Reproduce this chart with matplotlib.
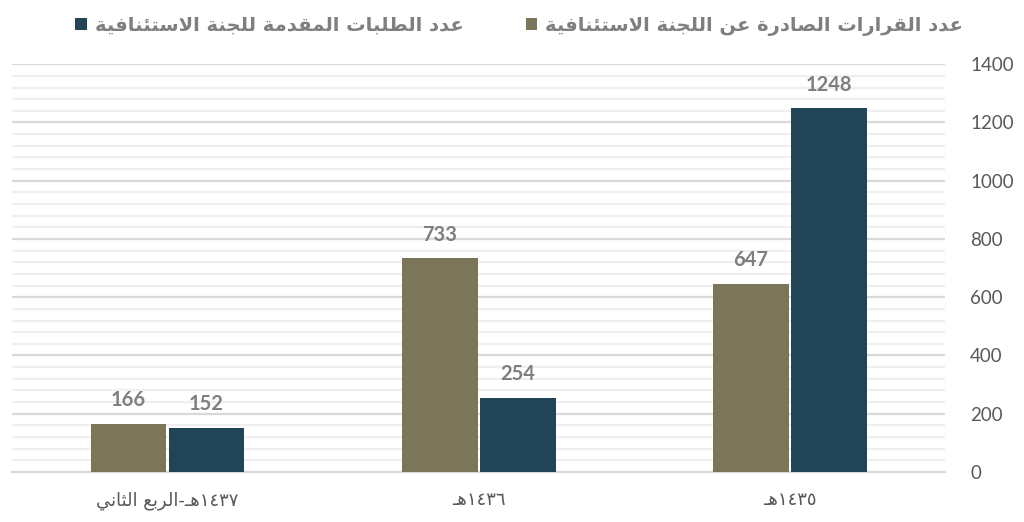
import re
import numpy as np
import matplotlib
matplotlib.use("Agg")
import matplotlib.pyplot as plt
from matplotlib.ticker import MultipleLocator

# ---------------- data ----------------
categories = ["١٤٣٥هـ", "١٤٣٦هـ", "١٤٣٧هـ-الربع الثاني"]
decisions = [647, 733, 166]      # عدد القرارات الصادرة عن اللجنة الاستئنافية
requests = [1248, 254, 152]      # عدد الطلبات المقدمة للجنة الاستئنافية
series_names = ["عدد القرارات الصادرة عن اللجنة الاستئنافية",
                "عدد الطلبات المقدمة للجنة الاستئنافية"]
yticks = [0, 200, 400, 600, 800, 1000, 1200, 1400]

OLIVE = "#7b7657"
NAVY = "#214457"

# ---------------- minimal Arabic shaping + bidi ----------------
FORMS = {
    "\u0621": ("\uFE80", "\uFE80", None, None),
    "\u0626": ("\uFE89", "\uFE8A", "\uFE8B", "\uFE8C"),
    "\u0627": ("\uFE8D", "\uFE8E", None, None),
    "\u0628": ("\uFE8F", "\uFE90", "\uFE91", "\uFE92"),
    "\u0629": ("\uFE93", "\uFE94", None, None),
    "\u062A": ("\uFE95", "\uFE96", "\uFE97", "\uFE98"),
    "\u062B": ("\uFE99", "\uFE9A", "\uFE9B", "\uFE9C"),
    "\u062C": ("\uFE9D", "\uFE9E", "\uFE9F", "\uFEA0"),
    "\u062D": ("\uFEA1", "\uFEA2", "\uFEA3", "\uFEA4"),
    "\u062E": ("\uFEA5", "\uFEA6", "\uFEA7", "\uFEA8"),
    "\u062F": ("\uFEA9", "\uFEAA", None, None),
    "\u0630": ("\uFEAB", "\uFEAC", None, None),
    "\u0631": ("\uFEAD", "\uFEAE", None, None),
    "\u0632": ("\uFEAF", "\uFEB0", None, None),
    "\u0633": ("\uFEB1", "\uFEB2", "\uFEB3", "\uFEB4"),
    "\u0634": ("\uFEB5", "\uFEB6", "\uFEB7", "\uFEB8"),
    "\u0635": ("\uFEB9", "\uFEBA", "\uFEBB", "\uFEBC"),
    "\u0636": ("\uFEBD", "\uFEBE", "\uFEBF", "\uFEC0"),
    "\u0637": ("\uFEC1", "\uFEC2", "\uFEC3", "\uFEC4"),
    "\u0638": ("\uFEC5", "\uFEC6", "\uFEC7", "\uFEC8"),
    "\u0639": ("\uFEC9", "\uFECA", "\uFECB", "\uFECC"),
    "\u063A": ("\uFECD", "\uFECE", "\uFECF", "\uFED0"),
    "\u0641": ("\uFED1", "\uFED2", "\uFED3", "\uFED4"),
    "\u0642": ("\uFED5", "\uFED6", "\uFED7", "\uFED8"),
    "\u0643": ("\uFED9", "\uFEDA", "\uFEDB", "\uFEDC"),
    "\u0644": ("\uFEDD", "\uFEDE", "\uFEDF", "\uFEE0"),
    "\u0645": ("\uFEE1", "\uFEE2", "\uFEE3", "\uFEE4"),
    "\u0646": ("\uFEE5", "\uFEE6", "\uFEE7", "\uFEE8"),
    "\u0647": ("\uFEE9", "\uFEEA", "\uFEEB", "\uFEEC"),
    "\u0648": ("\uFEED", "\uFEEE", None, None),
    "\u0649": ("\uFEEF", "\uFEF0", None, None),
    "\u064A": ("\uFEF1", "\uFEF2", "\uFEF3", "\uFEF4"),
}
TATWEEL = "\u0640"


def _dual(c):
    return c == TATWEEL or (c in FORMS and FORMS[c][2] is not None)


def _joining(c):
    return c == TATWEEL or c in FORMS


def shape(s):
    out = []
    i, n = 0, len(s)
    while i < n:
        c = s[i]
        prev = i > 0 and _dual(s[i - 1])
        if c == "\u0644" and i + 1 < n and s[i + 1] == "\u0627":
            out.append("\uFEFC" if prev else "\uFEFB")
            i += 2
            continue
        if c not in FORMS:
            out.append(c)
            i += 1
            continue
        iso, fin, ini, med = FORMS[c]
        nxt = ini is not None and i + 1 < n and _joining(s[i + 1])
        if prev and nxt:
            out.append(med)
        elif prev:
            out.append(fin)
        elif nxt:
            out.append(ini)
        else:
            out.append(iso)
        i += 1
    return "".join(out)


def rtl(s):
    shaped = shape(s)
    runs = re.findall(r"[0-9\u0660-\u0669]+|[^0-9\u0660-\u0669]+", shaped)
    vis = []
    for r in reversed(runs):
        if re.fullmatch(r"[0-9\u0660-\u0669]+", r):
            vis.append(r)
        else:
            vis.append(r[::-1])
    return "".join(vis)


# ---------------- figure ----------------
fig = plt.figure(figsize=(10.24, 5.22), dpi=100)
ax = fig.add_axes([0.0117, 0.0958, 0.9113, 0.7812])

x = np.arange(len(categories))
w = 0.244
off = 0.1254
b_dec = ax.bar(x + off, decisions, width=w, color=OLIVE, zorder=3)
b_req = ax.bar(x - off, requests, width=w, color=NAVY, zorder=3)

ax.set_xlim(-0.5, len(categories) - 0.5)
ax.invert_xaxis()
ax.set_ylim(0, 1400)
ax.set_yticks(yticks)
ax.yaxis.set_minor_locator(MultipleLocator(40))
ax.yaxis.tick_right()
ax.grid(axis="y", which="major", color="#d9d9d9", lw=1.6, zorder=0)
ax.grid(axis="y", which="minor", color="#efefef", lw=1.6, zorder=0)
ax.set_axisbelow(True)
for sp in ["top", "left", "right"]:
    ax.spines[sp].set_visible(False)
ax.spines["bottom"].set_color("#d9d9d9")
ax.spines["bottom"].set_linewidth(1.6)

ax.tick_params(axis="y", which="both", length=0, pad=18, labelsize=13.5,
               labelcolor="#595959")
for t in ax.get_yticklabels():
    t.set_family("Lato")
ax.set_xticks(x)
ax.set_xticklabels([rtl(c) for c in categories], family="DejaVu Sans",
                   fontsize=13, color="#595959")
ax.tick_params(axis="x", length=0, pad=14)

for cont in (b_dec, b_req):
    ax.bar_label(cont, padding=10, fontsize=14.5, fontweight="bold",
                 color="#7f7f7f", family="Lato")

leg = fig.legend(handles=[b_req, b_dec],
                 labels=[rtl(series_names[1]), rtl(series_names[0])],
                 ncol=2, loc="upper center", bbox_to_anchor=(0.507, 1.003),
                 frameon=False,
                 prop={"family": "DejaVu Sans", "weight": "bold", "size": 14},
                 labelcolor="#7f7f7f", handlelength=0.6, handleheight=0.6,
                 handletextpad=0.4, columnspacing=3.2)

fig.savefig("out.png", dpi=100, facecolor="white")
